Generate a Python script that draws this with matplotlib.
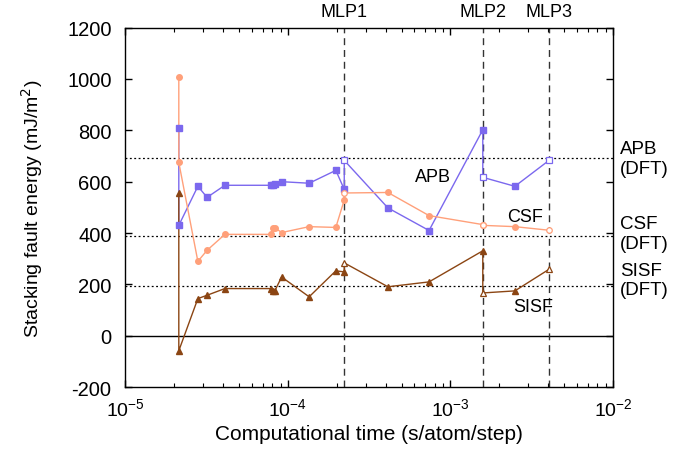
import matplotlib
matplotlib.use("Agg")
import matplotlib.pyplot as plt
from matplotlib.ticker import MultipleLocator, LogLocator, NullFormatter

plt.rcParams['font.family'] = ['Liberation Sans', 'DejaVu Sans']
plt.rcParams['axes.unicode_minus'] = False

# computational time per potential (s/atom/step); repeated x = two values at one cost
time = [2.13e-5, 2.13e-5, 2.79e-5, 3.18e-5, 4.09e-5, 7.85e-5, 8.1e-5, 8.31e-5,
        9.14e-5, 1.35e-4, 1.97e-4, 2.22e-4, 2.22e-4, 4.12e-4, 7.38e-4,
        1.58e-3, 1.58e-3, 2.49e-3, 4.04e-3]

# stacking fault energies (mJ/m^2)
apb = [810, 430, 582, 539, 586, 586, 588, 592, 600, 594, 644, 570, 683, 498, 410,
       802, 617, 582, 683]
csf = [1008, 675, 290, 333, 395, 395, 421, 421, 402, 425, 422, 529, 556, 558, 468,
       433, 430, 425, 411]
sisf = [556, -58, 145, 158, 184, 184, 176, 176, 229, 152, 253, 249, 284, 191, 210,
        331, 167, 175, 259]

# points drawn as open markers (the MLP potentials)
open_idx = [12, 16, 18]

# DFT reference values
dft_apb = 694
dft_csf = 390
dft_sisf = 195

mlp_names = ["MLP1", "MLP2", "MLP3"]
mlp_times = [2.22e-4, 1.58e-3, 4.04e-3]

fig = plt.figure(figsize=(6.93, 4.6), dpi=100)
ax = fig.add_axes([0.181, 0.156, 0.7036, 0.782])

series = [
    (apb, "#7B68EE", "s", 4.3),
    (csf, "#FFA07A", "o", 4.0),
    (sisf, "#8B4513", "^", 4.0),
]

for values, color, marker, ms in series:
    filled_x = [t for i, t in enumerate(time) if i not in open_idx]
    filled_y = [v for i, v in enumerate(values) if i not in open_idx]
    ax.plot(time, values, color=color, lw=1.0, zorder=3)
    ax.plot(filled_x, filled_y, ls="none", marker=marker, ms=ms, color=color, zorder=4)
    ax.plot([time[i] for i in open_idx], [values[i] for i in open_idx], ls="none",
            marker=marker, ms=ms, mfc="white", mec=color, mew=0.9, zorder=4)

# DFT lines and zero line
for v in [dft_apb, dft_csf, dft_sisf]:
    ax.axhline(v, color="black", ls=(0, (1.5, 2)), lw=0.9, zorder=1)
ax.axhline(0, color="black", lw=1.0, zorder=1)

# MLP markers
for name, t in zip(mlp_names, mlp_times):
    ax.axvline(t, color="#333333", ls=(0, (5, 3.5)), lw=1.0, zorder=2)
    ax.text(t, 1.022, name, transform=ax.get_xaxis_transform(), ha="center",
            va="bottom", fontsize=13)

# labels next to curves
ax.text(7.8e-4, 620, "APB", ha="center", va="center", fontsize=13)
ax.text(2.88e-3, 466, "CSF", ha="center", va="center", fontsize=13)
ax.text(3.22e-3, 116, "SISF", ha="center", va="center", fontsize=13)

# DFT labels on the right
tr = ax.get_yaxis_transform()
ax.text(1.014, 690, "APB\n(DFT)", transform=tr, ha="left", va="center", fontsize=13.5)
ax.text(1.014, 398, "CSF\n(DFT)", transform=tr, ha="left", va="center", fontsize=13.5)
ax.text(1.014, 218, "SISF\n(DFT)", transform=tr, ha="left", va="center", fontsize=13.5)

ax.set_xscale("log")
ax.set_xlim(1e-5, 1e-2)
ax.set_ylim(-200, 1200)
ax.yaxis.set_major_locator(MultipleLocator(200))
ax.xaxis.set_minor_locator(LogLocator(base=10, subs=range(2, 10)))
ax.xaxis.set_minor_formatter(NullFormatter())

ax.tick_params(which="both", direction="in", top=True, right=True)
ax.tick_params(which="major", length=5, width=1)
ax.tick_params(which="minor", length=3, width=0.8)
ax.tick_params(axis="y", pad=10, labelsize=14.5)
ax.tick_params(axis="x", pad=7, labelsize=14)
for s in ax.spines.values():
    s.set_linewidth(1.0)

ax.set_xlabel("Computational time (s/atom/step)", fontsize=15, labelpad=4)
ax.set_ylabel("Stacking fault energy (mJ/m$^2$)", fontsize=14, labelpad=16)

fig.savefig("out.png", dpi=100)
